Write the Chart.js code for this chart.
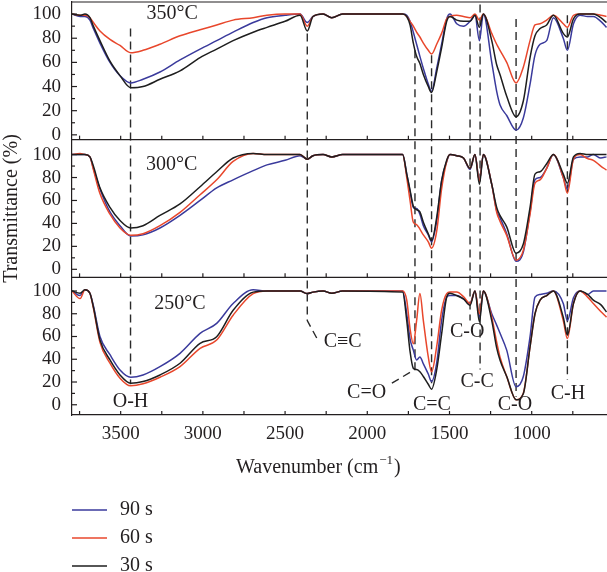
<!DOCTYPE html>
<html>
<head>
<meta charset="utf-8">
<script src="https://cdn.jsdelivr.net/npm/chart.js@4.4.1/dist/chart.umd.min.js"></script>
<style>
  html, body { margin: 0; padding: 0; background: #fff; }
  #wrap { position: relative; width: 607px; height: 572px; }
</style>
</head>
<body>
<div id="wrap"><canvas id="ftir" width="607" height="572"></canvas></div>
<script>
// wavenumber grid (cm-1), shared by every spectrum
const wavenumbers = [3796, 3747, 3717, 3687, 3666, 3626, 3565, 3504, 3439, 3364, 3261, 3139, 3017, 2916, 2816, 2694, 2610, 2500, 2409, 2365,
  2330, 2269, 2216, 2150, 1785, 1760, 1740, 1720, 1700, 1680, 1659, 1629, 1609, 1578, 1548, 1517, 1497, 1456, 1415, 1375,
  1345, 1318, 1294, 1243, 1213, 1193, 1152, 1095, 1051, 1010, 980, 949, 909, 868, 808, 783, 746, 706, 660, 625, 580, 545];

// 350 °C
const blue350 = [100, 98, 98, 95, 88, 76, 60, 49, 43, 46, 52, 62, 71, 78, 85, 93, 97, 99, 100, 93,
  98, 100, 97, 100, 100, 99, 94, 85, 75, 65, 55, 42, 36, 55, 75, 96, 100, 92, 90, 94,
  99, 78, 100, 60, 36, 25, 16, 4, 14, 42, 66, 75, 78, 97, 80, 70, 92, 99, 98, 98, 94, 89];
const red350 = [100, 99, 99, 97, 93, 86, 79, 74, 68, 70, 75, 82, 87, 91, 95, 97, 99, 100, 100, 90,
  98, 100, 97, 100, 100, 98, 94, 90, 85, 81, 76, 70, 67, 75, 84, 96, 98, 99, 98, 97,
  100, 95, 100, 84, 75, 70, 60, 43, 56, 78, 91, 92, 95, 99, 92, 89, 99, 100, 100, 100, 99, 98];
const black350 = [100, 99, 100, 97, 90, 78, 61, 49, 39, 40, 46, 53, 64, 71, 78, 85, 89, 94, 99, 86,
  98, 100, 97, 100, 100, 98, 91, 76, 65, 59, 50, 40, 35, 52, 72, 94, 98, 95, 94, 94,
  99, 89, 100, 78, 58, 50, 32, 15, 28, 64, 82, 88, 91, 99, 84, 81, 96, 100, 100, 100, 97, 93];

// 300 °C
const blue300 = [100, 100, 100, 98, 88, 70, 50, 38, 29, 30, 36, 47, 60, 71, 78, 86, 91, 95, 99, 96,
  99, 100, 98, 100, 100, 83, 68, 54, 53, 48, 38, 30, 24, 42, 77, 94, 100, 99, 97, 87,
  100, 77, 100, 74, 51, 45, 31, 7, 15, 50, 78, 80, 88, 100, 80, 70, 96, 98, 98, 100, 97, 98];
const red300 = [100, 101, 100, 98, 87, 66, 48, 36, 29.6, 31, 38, 49.6, 65, 78, 94, 101, 100, 100, 100, 96,
  99, 100, 98, 100, 100, 80, 60, 41, 39, 35, 30, 24, 18.4, 33, 70, 94, 100, 99, 97, 88,
  100, 77, 100, 74, 49.7, 42, 29.6, 8, 16.5, 48, 75, 78, 88, 100, 80, 66.4, 96, 100, 96.5, 95, 90, 86.5];
const black300 = [100, 100, 100, 98, 90, 71, 54, 42.5, 36, 38, 47, 57, 72, 85, 97, 101, 100, 100, 100, 96,
  99, 100, 98, 100, 100, 83, 69, 55, 52, 50, 41, 31, 25, 45, 77, 95, 100, 99, 97, 88,
  100, 74, 100, 74, 54, 47, 37, 14, 22, 54, 83, 85, 92, 100, 83, 75, 98, 101, 100, 100, 100, 100];

// 250 °C
const blue250 = [100, 96, 101, 98, 87, 60, 44, 30.6, 24.2, 26.2, 33.5, 45.2, 62.7, 71.5, 89, 101, 100, 100, 100, 97.7,
  99, 100, 98, 100, 100, 80, 58, 48, 39.4, 42, 36, 27, 20.4, 36.5, 74, 94.6, 96, 96, 93, 89,
  100, 77, 100, 80, 70, 63, 48, 15.8, 24.8, 59.8, 94.6, 97, 98, 100, 89, 74, 94, 100, 97, 100, 100, 100];
const red250 = [100, 93.3, 101, 98, 85, 55, 36.5, 23.3, 16.6, 18.4, 24.2, 33.5, 49.6, 56.9, 78.7, 97.7, 100, 100, 100, 97.7,
  99, 100, 98, 100, 100, 92, 67, 53.7, 74, 97.7, 74, 42, 29, 51, 83, 97.7, 99, 99, 95, 89,
  100, 80, 100, 77, 55, 42, 24.8, 4.4, 10.2, 51, 80, 92, 96, 100, 74, 58.3, 89, 100, 94.6, 89, 82, 77];
const black250 = [100, 98, 101, 98, 86, 57, 39.4, 26.2, 18.9, 20.4, 26.2, 36.5, 54, 59.8, 83, 99, 100, 100, 100, 97.7,
  99, 100, 98, 100, 99, 74, 47, 32, 31, 29, 24.8, 18, 13.7, 30.6, 62, 94.6, 98, 96, 93, 87.4,
  100, 72.9, 100, 74, 50, 39.4, 24.8, 4.4, 9.6, 51, 80, 92, 96, 100, 77, 61.3, 89, 100, 97, 92, 88, 81.6];

const seriesLabels = ['90 s', '60 s', '30 s'];
const seriesColors = ['#3a3a9c', '#e8472c', '#1e1e1e'];
const panelTitles = ['350°C', '300°C', '250°C'];
const panelAxes = ['y1', 'y2', 'y3'];
const panelSeries = [[blue350, red350, black350], [blue300, red300, black300], [blue250, red250, black250]];
const yTicks = [0, 20, 40, 60, 80, 100];
const xTicks = [3500, 3000, 2500, 2000, 1500, 1000];

// band markers: dashed path points [wavenumber, axis, value] and label spot
const bands = [
  { name: 'O-H', path: [[3440, 'y1', 88], [3440, 'y3', 18]], at: [3440, 'y3', 3] },
  { name: 'C≡C', path: [[2365, 'y1', 84], [2365, 'y3', 74], [2305, 'y3', 58]], at: [2150, 'y3', 55] },
  { name: 'C=O', path: [[1710, 'y1', 70], [1710, 'y3', 31], [1874, 'y3', 17]], at: [2004, 'y3', 10.5] },
  { name: 'C=C', path: [[1609, 'y1', 66], [1609, 'y3', 19]], at: [1607, 'y3', 0] },
  { name: 'C-O', path: [[1375, 'y1', 88], [1375, 'y3', 74]], at: [1392, 'y3', 64] },
  { name: 'C-C', path: [[1314, 'y1', 108], [1314, 'y3', 31]], at: [1332, 'y3', 20] },
  { name: 'C-O', path: [[1095, 'y1', 96], [1095, 'y3', 7]], at: [1102, 'y3', 0] },
  { name: 'C-H', path: [[783, 'y1', 99], [783, 'y3', 22]], at: [780, 'y3', 9.6] }
];
const titleSpots = [[3186, 'y1', 100], [3190, 'y2', 91.5], [3139, 'y3', 89]];

const serif = '"Liberation Serif", "DejaVu Serif", serif';
const ink = '#231f20';

const datasets = [];
panelSeries.forEach((series, pi) => {
  series.forEach((vals, si) => {
    datasets.push({
      label: seriesLabels[si] + ' ' + panelTitles[pi],
      data: wavenumbers.map((w, i) => ({ x: w, y: vals[i] })),
      yAxisID: panelAxes[pi],
      borderColor: seriesColors[si],
      borderWidth: 1.5,
      pointRadius: 0,
      cubicInterpolationMode: 'monotone',
      order: 2 - si
    });
  });
});

function noPad(s) {
  s.paddingTop = 0;
  s.paddingBottom = 0;
  s.paddingLeft = 0;
  s.paddingRight = 0;
}

function panelScale(min, max) {
  return {
    type: 'linear',
    position: 'left',
    stack: 'panels',
    stackWeight: 1,
    min: min,
    max: max,
    grid: { display: false, drawTicks: false },
    border: { display: true, color: ink, width: 1.2 },
    ticks: { font: { family: serif, size: 19 }, color: ink, padding: 11, autoSkip: false },
    afterBuildTicks: s => { s.ticks = yTicks.map(v => ({ value: v })); },
    afterFit: s => { s.width = 72; noPad(s); }
  };
}

const decor = {
  id: 'decor',
  beforeDatasetsDraw(chart) {
    const ctx = chart.ctx;
    ctx.save();
    ctx.strokeStyle = '#2a2a2a';
    ctx.lineWidth = 1.4;
    ctx.setLineDash([8, 5]);
    bands.forEach(b => {
      ctx.beginPath();
      b.path.forEach(([w, ax, v], i) => {
        const x = chart.scales.x.getPixelForValue(w);
        const y = chart.scales[ax].getPixelForValue(v);
        if (i === 0) ctx.moveTo(x, y); else ctx.lineTo(x, y);
      });
      ctx.stroke();
    });
    ctx.restore();
  },
  afterDatasetsDraw(chart) {
    const ctx = chart.ctx;
    const area = chart.chartArea;
    const xs = chart.scales.x;
    ctx.save();
    ctx.strokeStyle = ink;
    ctx.lineWidth = 1.2;
    panelAxes.forEach(ax => {
      const s = chart.scales[ax];
      // panel top line
      ctx.beginPath();
      ctx.moveTo(area.left, s.top);
      ctx.lineTo(area.right, s.top);
      ctx.stroke();
      // inward x ticks
      for (let w = 3750; w >= 750; w -= 250) {
        const x = xs.getPixelForValue(w);
        ctx.beginPath();
        ctx.moveTo(x, s.bottom);
        ctx.lineTo(x, s.bottom - 4);
        ctx.stroke();
      }
      // inward y ticks
      for (let v = 0; v <= 100; v += 10) {
        const y = s.getPixelForValue(v);
        ctx.beginPath();
        ctx.moveTo(area.left, y);
        ctx.lineTo(area.left + (v % 20 === 0 ? 5 : 3), y);
        ctx.stroke();
      }
    });

    ctx.fillStyle = ink;
    ctx.font = '20px ' + serif;
    ctx.textAlign = 'center';
    ctx.textBaseline = 'middle';
    titleSpots.forEach(([w, ax, v], i) => {
      ctx.fillText(panelTitles[i], xs.getPixelForValue(w), chart.scales[ax].getPixelForValue(v));
    });
    bands.forEach(b => {
      const [w, ax, v] = b.at;
      ctx.fillText(b.name, xs.getPixelForValue(w), chart.scales[ax].getPixelForValue(v));
    });

    // y title
    ctx.save();
    ctx.translate(12, (area.top + area.bottom) / 2);
    ctx.rotate(-Math.PI / 2);
    ctx.fillText('Transmittance (%)', 0, 0);
    ctx.restore();

    // x title with superscript
    const ty = area.bottom + 53;
    ctx.textAlign = 'left';
    let tx = 236;
    const main = 'Wavenumber (cm';
    ctx.fillText(main, tx, ty);
    tx += ctx.measureText(main).width;
    ctx.font = '13px ' + serif;
    ctx.fillText('\u22121', tx + 1, ty - 7);
    tx += ctx.measureText('\u22121').width + 2;
    ctx.font = '20px ' + serif;
    ctx.fillText(')', tx, ty);

    // legend
    seriesLabels.forEach((lab, i) => {
      const ly = area.bottom + 95 + i * 28;
      ctx.strokeStyle = seriesColors[i];
      ctx.lineWidth = 1.5;
      ctx.beginPath();
      ctx.moveTo(72, ly);
      ctx.lineTo(107, ly);
      ctx.stroke();
      ctx.fillText(lab, 120, ly);
    });
    ctx.restore();
  }
};

new Chart(document.getElementById('ftir'), {
  type: 'line',
  data: { datasets: datasets },
  options: {
    responsive: false,
    animation: false,
    devicePixelRatio: 1,
    layout: { padding: { top: 2, left: 0, right: 0, bottom: 117 } },
    plugins: { legend: { display: false }, tooltip: { enabled: false } },
    scales: {
      x: {
        type: 'linear',
        reverse: true,
        min: 542,
        max: 3796,
        grid: { display: false, drawTicks: false },
        border: { display: true, color: ink, width: 1.2 },
        ticks: {
          font: { family: serif, size: 19 }, color: ink, padding: 8, maxRotation: 0, autoSkip: false,
          callback: v => String(v)
        },
        afterBuildTicks: s => { s.ticks = xTicks.map(v => ({ value: v })); },
        afterFit: s => { s.height = 40; noPad(s); }
      },
      y3: panelScale(-9, 112),
      y2: panelScale(-7, 113),
      y1: panelScale(-4, 110)
    }
  },
  plugins: [decor]
});
</script>
</body>
</html>
